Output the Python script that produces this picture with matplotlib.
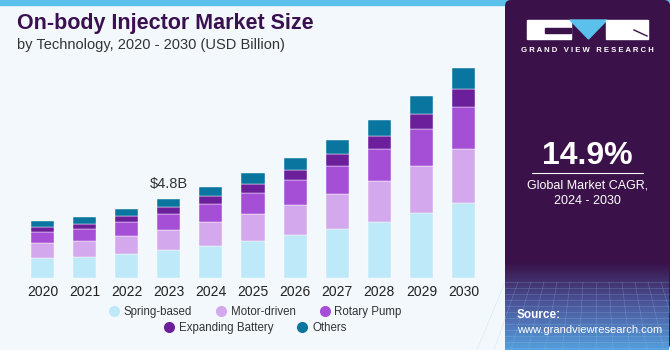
import matplotlib
matplotlib.use("Agg")
import matplotlib.pyplot as plt
import numpy as np
from matplotlib.patches import Rectangle, Polygon, FancyBboxPatch
from matplotlib.lines import Line2D
from matplotlib.colors import LinearSegmentedColormap

years = ["2020", "2021", "2022", "2023", "2024", "2025", "2026", "2027", "2028", "2029", "2030"]
spring_based = [1.22, 1.28, 1.46, 1.70, 1.94, 2.25, 2.61, 2.98, 3.40, 3.95, 4.56]
motor_driven = [0.91, 0.97, 1.09, 1.22, 1.46, 1.64, 1.82, 2.13, 2.49, 2.86, 3.28]
rotary_pump = [0.67, 0.73, 0.85, 0.97, 1.09, 1.28, 1.52, 1.70, 1.94, 2.25, 2.55]
expanding_battery = [0.30, 0.30, 0.36, 0.43, 0.49, 0.55, 0.61, 0.73, 0.79, 0.91, 1.09]
others = [0.36, 0.43, 0.43, 0.49, 0.55, 0.67, 0.73, 0.85, 0.97, 1.09, 1.28]
series_names = ["Spring-based", "Motor-driven", "Rotary Pump", "Expanding Battery", "Others"]
colors = ["#BDE9F8", "#D4A8EC", "#A44FD6", "#6C1F9A", "#0A76A0"]
annot_year_idx = 3
annot_text = "$4.8B"

W, H = 670, 350
plt.rcParams['font.family'] = ['Liberation Sans', 'DejaVu Sans']
fig = plt.figure(figsize=(W / 100, H / 100), dpi=100)
fig.patch.set_facecolor("#F3F8FC")

bg = fig.add_axes([0, 0, 1, 1], zorder=0)
bg.set_xlim(0, W)
bg.set_ylim(H, 0)
bg.axis("off")

bg.add_patch(Rectangle((0, 0), W, 5, color="#5BC0EB", zorder=1))
panel_x = 505
bg.add_patch(FancyBboxPatch((panel_x, 0), W - panel_x, H, boxstyle="round,pad=0,rounding_size=6",
                            facecolor="#3A1249", edgecolor="none", zorder=2))
grad = np.linspace(0, 1, 100)[:, None]
cmap = LinearSegmentedColormap.from_list("g", [(0.227, 0.071, 0.286, 1.0), (0.30, 0.35, 0.62, 1.0),
                                               (0.33, 0.62, 0.86, 1.0)])
bg.imshow(grad, extent=[panel_x, W - 1, H, 262], aspect="auto", cmap=cmap, zorder=3)
for k in range(12):
    yy = 282 + k * 6
    bg.plot([panel_x, W - 1], [yy, yy], color="#9DC8EE", lw=0.4, alpha=0.35, zorder=4)
for k in range(14):
    xx = panel_x + k * 13
    bg.plot([xx, xx + (k - 7) * 4], [282, H], color="#9DC8EE", lw=0.4, alpha=0.35, zorder=4)

# logo
bg.add_patch(Rectangle((527, 20), 44, 19, color="white", zorder=5))
bg.add_patch(Rectangle((545, 28), 26, 5, color="#3A1249", zorder=6))
bg.add_patch(Polygon([[570, 20], [607, 20], [588.5, 39]], closed=True, color="#5BC0EB", zorder=5))
bg.add_patch(Rectangle((606, 20), 42, 19, color="white", zorder=5))
bg.plot([634, 647], [30, 36], color="#3A1249", lw=1.0, zorder=6)
bg.text(587.5, 50, "G R A N D   V I E W   R E S E A R C H", color="white", fontsize=5.6, fontweight="bold",
        ha="center", va="center", zorder=6)

bg.text(587.5, 156, "14.9%", color="white", fontsize=23, fontweight="bold", ha="center", va="center", zorder=6)
bg.plot([532, 643], [173, 173], color="white", lw=0.8, zorder=6)
bg.text(587.5, 186, "Global Market CAGR,", color="white", fontsize=9, ha="center", va="center", zorder=6)
bg.text(587.5, 201, "2024 - 2030", color="white", fontsize=9, ha="center", va="center", zorder=6)
bg.text(517, 315, "Source:", color="white", fontsize=8.5, fontweight="bold", ha="left", va="center", zorder=6)
bg.text(517, 330, "www.grandviewresearch.com", color="white", fontsize=8, ha="left", va="center", zorder=6)

bg.text(17, 23, "On-body Injector Market Size", color="#3A1050", fontsize=15.5, fontweight="heavy",
        ha="left", va="center", zorder=6)
bg.text(17, 45, "by Technology, 2020 - 2030 (USD Billion)", color="#333333", fontsize=10.5,
        ha="left", va="center", zorder=6)

ax = fig.add_axes([21.5 / W, 72 / H, 463 / W, 214 / H], zorder=5)
ax.set_facecolor("none")
x = np.arange(len(years))
bottom = np.zeros(len(years))
data = [spring_based, motor_driven, rotary_pump, expanding_battery, others]
for vals, c, name in zip(data, colors, series_names):
    ax.bar(x, vals, width=0.55, bottom=bottom, color=c, edgecolor="white", linewidth=0.3, label=name)
    bottom += np.array(vals)
ax.text(x[annot_year_idx], bottom[annot_year_idx] + 0.45, annot_text, ha="center", va="bottom",
        fontsize=10.5, color="#333333")
ax.set_xlim(-0.5, len(years) - 0.5)
ax.set_ylim(0, 13)
ax.set_xticks(x)
ax.set_xticklabels(years, fontsize=10, color="#222222")
ax.tick_params(axis="x", length=0, pad=5)
ax.set_yticks([])
for s in ax.spines.values():
    s.set_visible(False)

handles = [Line2D([], [], marker="o", linestyle="none", markersize=8, markerfacecolor=c,
                  markeredgecolor="none") for c in colors]
leg_kw = dict(loc="center", frameon=False, fontsize=8.3, handlelength=1.0, handletextpad=0.35,
              columnspacing=2.0, labelcolor="#333333", borderpad=0.2)
fig.legend(handles[:3], series_names[:3], bbox_to_anchor=(255 / W, 1 - 312 / H), ncol=3, **leg_kw)
fig.legend(handles[3:], series_names[3:], bbox_to_anchor=(255 / W, 1 - 328 / H), ncol=2, **leg_kw)

fig.savefig("out.png", dpi=100, facecolor=fig.get_facecolor())
